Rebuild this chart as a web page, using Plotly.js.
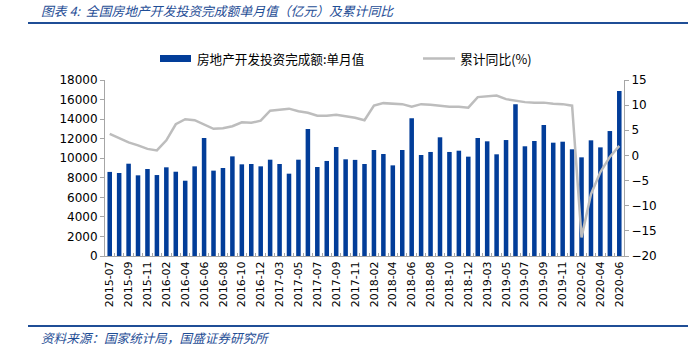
<!DOCTYPE html>
<html>
<head>
<meta charset="utf-8">
<script src="https://cdn.plot.ly/plotly-3.0.1.min.js"></script>
<style>
  html, body { margin: 0; padding: 0; background: #ffffff; }
  #chart { width: 688px; height: 352px; }
</style>
</head>
<body>
<div id="chart"></div>
<script>
const categories = [
  '2015-07','2015-08','2015-09','2015-10','2015-11','2015-12',
  '2016-02','2016-03','2016-04','2016-05','2016-06','2016-07','2016-08','2016-09','2016-10','2016-11','2016-12',
  '2017-02','2017-03','2017-04','2017-05','2017-06','2017-07','2017-08','2017-09','2017-10','2017-11','2017-12',
  '2018-02','2018-03','2018-04','2018-05','2018-06','2018-07','2018-08','2018-09','2018-10','2018-11','2018-12',
  '2019-02','2019-03','2019-04','2019-05','2019-06','2019-07','2019-08','2019-09','2019-10','2019-11','2019-12',
  '2020-02','2020-03','2020-04','2020-05','2020-06'
];
const monthlyValue = [
  8600, 8490, 9440, 8250, 8900, 8280,
  9070, 8620, 7700, 9170, 12070, 8730, 9000, 10190, 9375, 9410, 9170,
  9850, 9410, 8420, 9850, 12990, 9100, 9720, 11150, 9890, 9830, 9410,
  10840, 10430, 9270, 10840, 14080, 10330, 10640, 12140, 10640, 10770, 10160,
  12070, 11730, 10400, 11860, 15510, 11220, 11760, 13400, 11590, 11690, 10910,
  10090, 11830, 11110, 12780, 16870
];
const cumulativeYoY = [
  4.3, 3.5, 2.6, 2.0, 1.3, 1.0,
  3.0, 6.2, 7.2, 7.0, 6.1, 5.3, 5.4, 5.8, 6.6, 6.5, 6.9,
  8.9, 9.1, 9.3, 8.8, 8.5, 7.9, 7.9, 8.1, 7.8, 7.5, 7.0,
  9.9, 10.4, 10.3, 10.2, 9.7, 10.2, 10.1, 9.9, 9.7, 9.7, 9.5,
  11.6, 11.8, 11.9, 11.2, 10.9, 10.6, 10.5, 10.5, 10.3, 10.2, 9.9,
  -16.3, -7.7, -3.3, -0.3, 1.9
];
const leftTicks = [0, 2000, 4000, 6000, 8000, 10000, 12000, 14000, 16000, 18000];
const leftTickText = ['0', '2000', '4000', '6000', '8000', '10000', '12000', '14000', '16000', '18000'];
const rightTicks = [-20, -15, -10, -5, 0, 5, 10, 15];
const xTickText = categories.map((c, i) => (i % 2 === 0 ? c : ''));

const seriesNames = ['房地产开发投资完成额:单月值', '累计同比(%)'];
const titleText = '图表 4:  全国房地产开发投资完成额单月值（亿元）及累计同比';
const sourceText = '资料来源：国家统计局，国盛证券研究所';

const BLUE = '#023D99';
const GRAY = '#BDBDBD';
const AXIS = '#A6A6A6';
const FONT = 'DejaVu Sans, Verdana, sans-serif';
const CJK = 'Noto Sans CJK SC, sans-serif';

const traces = [
  {
    type: 'bar', name: seriesNames[0],
    x: categories, y: monthlyValue,
    marker: { color: BLUE },
    yaxis: 'y', hoverinfo: 'x+y'
  },
  {
    type: 'scatter', mode: 'lines', name: seriesNames[1],
    x: categories, y: cumulativeYoY,
    line: { color: GRAY, width: 2.5 },
    yaxis: 'y2', hoverinfo: 'x+y'
  }
];

const layout = {
  width: 688, height: 352,
  margin: { l: 105, r: 64, t: 80, b: 96 },
  paper_bgcolor: '#ffffff', plot_bgcolor: '#ffffff',
  showlegend: false,
  bargap: 0.52,
  font: { family: FONT, size: 11, color: '#000000' },
  xaxis: {
    type: 'category',
    tickmode: 'array', tickvals: categories, ticktext: xTickText,
    tickangle: -90,
    tickson: 'boundaries',
    ticks: 'inside', ticklen: 3, tickcolor: AXIS,
    showline: true, linecolor: AXIS, linewidth: 1,
    showgrid: false, zeroline: false,
    tickfont: { family: FONT, size: 11, color: '#000' },
    range: [-0.5, categories.length - 0.5]
  },
  yaxis: {
    range: [0, 18000], tickmode: 'array', tickvals: leftTicks, ticktext: leftTickText,
    ticks: 'outside', ticklen: 4, tickcolor: AXIS,
    showline: true, linecolor: AXIS, linewidth: 1,
    showgrid: false, zeroline: false,
    tickfont: { family: FONT, size: 12, color: '#000' }
  },
  yaxis2: {
    overlaying: 'y', side: 'right',
    range: [-20, 15], tickmode: 'array', tickvals: rightTicks,
    ticks: 'outside', ticklen: 4, tickcolor: AXIS,
    showline: true, linecolor: AXIS, linewidth: 1,
    showgrid: false, zeroline: false,
    tickfont: { family: FONT, size: 12, color: '#000' }
  },
  shapes: [
    { type: 'line', xref: 'paper', yref: 'paper',
      x0: -77/519, x1: 649/519, y0: 1 + 57/176, y1: 1 + 57/176,
      line: { color: '#1F4E96', width: 2 } },
    { type: 'line', xref: 'paper', yref: 'paper',
      x0: -77/519, x1: 652/519, y0: -70/176, y1: -70/176,
      line: { color: '#1F4E96', width: 2 } },
    { type: 'rect', xref: 'paper', yref: 'paper',
      x0: 55/519, x1: 86/519, y0: 1 + 18/176, y1: 1 + 25/176,
      fillcolor: BLUE, line: { width: 0 } },
    { type: 'line', xref: 'paper', yref: 'paper',
      x0: 318/519, x1: 350/519, y0: 1 + 21.5/176, y1: 1 + 21.5/176,
      line: { color: GRAY, width: 2.5 } }
  ],
  annotations: [
    { xref: 'paper', yref: 'paper', x: -66/519, y: 1 + 70/176,
      xanchor: 'left', yanchor: 'middle', showarrow: false,
      text: '<i>' + titleText + '</i>',
      font: { family: CJK, size: 12.8, color: '#1F4E96' } },
    { xref: 'paper', yref: 'paper', x: 90/519, y: 1 + 21.5/176,
      xanchor: 'left', yanchor: 'middle', showarrow: false,
      text: seriesNames[0],
      font: { family: CJK, size: 12.6, color: '#000' } },
    { xref: 'paper', yref: 'paper', x: 353/519, y: 1 + 21.5/176,
      xanchor: 'left', yanchor: 'middle', showarrow: false,
      text: seriesNames[1],
      font: { family: CJK, size: 12.8, color: '#000' } },
    { xref: 'paper', yref: 'paper', x: -66/519, y: -81/176,
      xanchor: 'left', yanchor: 'middle', showarrow: false,
      text: '<i>' + sourceText + '</i>',
      font: { family: CJK, size: 12.6, color: '#1F4E96' } }
  ]
};

Plotly.newPlot('chart', traces, layout, { displayModeBar: false, staticPlot: true });
</script>
</body>
</html>
